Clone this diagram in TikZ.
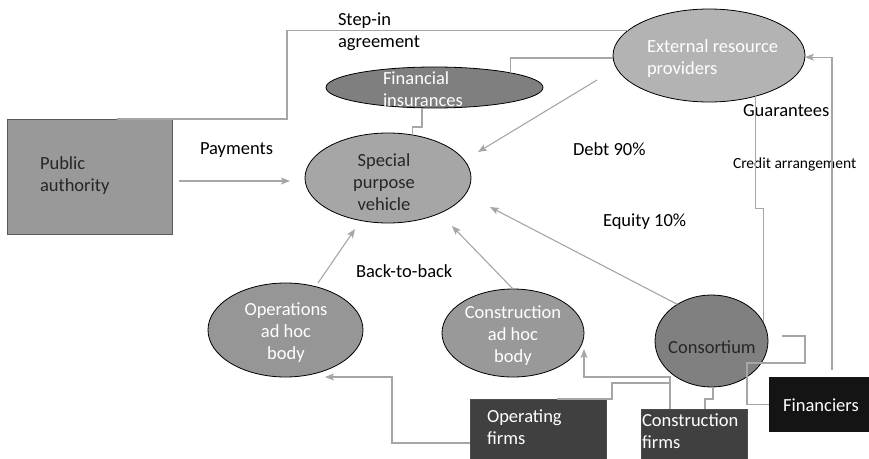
\documentclass[tikz,border=0pt]{standalone}
\usepackage{fontspec}
\setmainfont{Carlito}
\usepackage{tikz}
\usetikzlibrary{shapes.geometric,arrows.meta}
\definecolor{pagray}{HTML}{999999}
\definecolor{insurgray}{HTML}{7F7F7F}
\definecolor{erpgray}{HTML}{B3B3B3}
\definecolor{spvgray}{HTML}{A6A6A6}
\definecolor{bodygray}{HTML}{969696}
\definecolor{consgray}{HTML}{808080}
\definecolor{firmgray}{HTML}{404040}
\definecolor{fingray}{HTML}{141414}
\definecolor{linegray}{HTML}{A6A6A6}
\tikzstyle{every node}=[font=\fontsize{18.5}{22}\selectfont, inner sep=0pt, outer sep=0pt]
\tikzstyle{oval}=[ellipse, draw=black, line width=0.8pt]
\tikzstyle{box}=[rectangle]
\tikzstyle{link}=[draw=linegray, line width=1.1pt]
\tikzstyle{arrow}=[link, -{Stealth[length=9pt,width=7pt,inset=2pt]}]
\tikzstyle{lbl}=[anchor=base west]

\begin{document}
\begin{tikzpicture}[x=1pt,y=-1pt]
 \useasboundingbox (0,0) rectangle (869,458);
 \clip (0,0) rectangle (869,458);
 % boxes
 \node[box, fill=pagray, draw=black!65, line width=0.8pt, minimum width=165, minimum height=115] (public) at (89.5,176.5) {};
 \node[box, fill=firmgray, draw=black!70, minimum width=136, minimum height=71] (opfirms) at (538,434.5) {};
 \node[box, fill=firmgray, draw=black!70, minimum width=106, minimum height=61] (confirms) at (694,439.5) {};
 \node[box, fill=fingray, minimum width=100, minimum height=55] (financiers) at (819,404.5) {};
 % ovals
 \node[oval, fill=insurgray, minimum width=217, minimum height=41] (insur) at (434.5,87.5) {};
 \node[oval, fill=erpgray, minimum width=192, minimum height=93] (erp) at (709,55.5) {};
 \node[oval, fill=spvgray, minimum width=166, minimum height=90] (spv) at (388,178) {};
 \node[oval, fill=bodygray, minimum width=155, minimum height=94] (oahb) at (285.5,330) {};
 \node[oval, fill=pagray, minimum width=142, minimum height=88] (cahb) at (513,333) {};
 \node[oval, fill=consgray, minimum width=113, minimum height=92] (cons) at (711.5,341) {};
 % texts inside
 \node[anchor=west, align=left, text=black!85] (public-t) at (40,176) {Public\\authority};
 \node[anchor=west, align=left, text=white] (insur-t) at (383,89) {Financial\\insurances};
 \node[anchor=west, align=left, text=white] (erp-t) at (647,59) {External resource\\providers};
 \node[align=center, text=black!85] (spv-t) at (384,182.5) {Special\\purpose\\vehicle};
 \node[align=center, text=white] (oahb-t) at (286,333) {Operations\\ad hoc\\body};
 \node[align=center, text=white] (cahb-t) at (513,335.5) {Construction\\ad hoc\\body};
 \node[text=black!85] (cons-t) at (712,347) {Consortium};
 \node[anchor=west, align=left, text=white] (opfirms-t) at (487,427) {Operating\\firms};
 \node[anchor=west, align=left, text=white] (confirms-t) at (642,431.5) {Construction\\firms};
 \node[text=white] (financiers-t) at (821,405) {Financiers};
 % labels
 \node[anchor=west, align=left] (stepin) at (338,32) {Step-in\\agreement};
 \node[lbl] (payments) at (200,154) {Payments};
 \node[lbl] (debt) at (573,155) {Debt 90\%};
 \node[lbl] (equity) at (603,226) {Equity 10\%};
 \node[lbl] (backtoback) at (356,277) {Back-to-back};
 \node[lbl] (guarantees) at (743,116) {Guarantees};
 \node[lbl, font=\fontsize{15.5}{18}\selectfont] (credit) at (733,168) {Credit arrangement};
 % connectors
 \draw[link] ([shift={(27.5,0)}]public.north) -- ++(170,0) |- (erp.163);
 \draw[arrow] ([shift={(7,4.5)}]public.east) -- ([shift={(-15,3)}]spv.west);
 \draw[arrow] ([shift={(-16,24.5)}]erp.west) -- ([shift={(7,-26)}]spv.east);
 \draw[link] ([shift={(0,2.5)}]erp.west) -| (insur.11);
 \draw[link] ([shift={(-12.5,0)}]insur.south) -- ++(0,19) -| (spv.60);
 \draw[link] (erp.-41) -- ++(0,112) -| (cons.20);
 \draw[arrow] ([shift={(13,-7)}]financiers.north) |- (erp.-1.5);
 \draw[link] ([shift={(14,-5)}]cons.east) -| ++(23,27) -| ([shift={(-22,0)}]financiers.west) -- (financiers.west);
 \draw[arrow] (cons.133) -- ([shift={(19,29)}]spv.east);
 \draw[arrow] (cahb.north) -- ([shift={(-19,48)}]spv.east);
 \draw[arrow] ([shift={(32.5,0)}]oahb.north) -- ([shift={(-33,6)}]spv.south);
 \draw[arrow] ([shift={(0,8.5)}]opfirms.west) -- ++(-78,0) |- ([shift={(39.5,0)}]oahb.south);
 \draw[arrow] ([shift={(-24,0)}]confirms.north) -- ++(0,-32) -| ([shift={(0,16)}]cahb.east);
 \draw[link] ([shift={(19,0)}]opfirms.north) -- ++(55,0) |- ([shift={(-24,-26)}]confirms.north);
 \draw[link] ([shift={(1.5,0)}]cons.south) -- ++(0,12) -| ([shift={(11,0)}]confirms.north);
\end{tikzpicture}
\end{document}
